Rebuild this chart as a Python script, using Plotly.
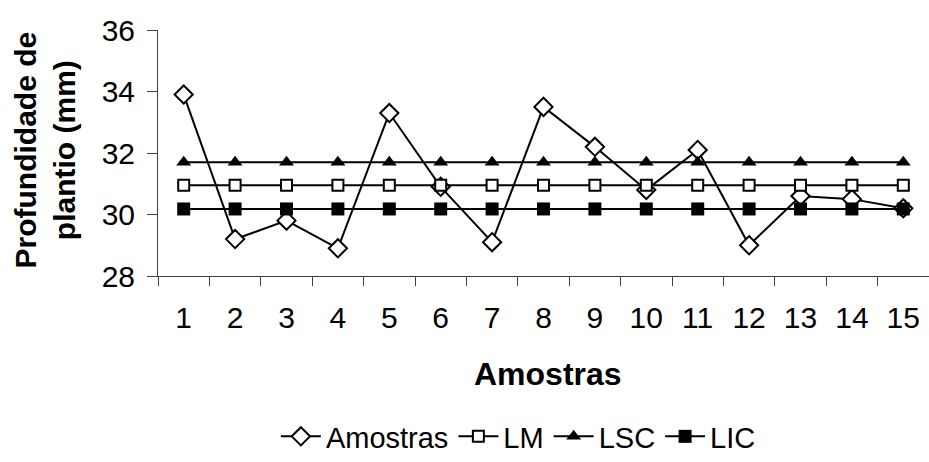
import plotly.graph_objects as go

amostras_x = ["1", "2", "3", "4", "5", "6", "7", "8", "9", "10", "11", "12", "13", "14", "15"]
amostras = [33.9, 29.2, 29.8, 28.9, 33.3, 30.9, 29.1, 33.5, 32.2, 30.8, 32.1, 29.0, 30.6, 30.5, 30.2]
lm = [30.95] * 15
lsc = [31.7] * 15
lic = [30.18] * 15
y_ticks = [28, 30, 32, 34, 36]

FONT = "Arial, Liberation Sans, sans-serif"
AX = "#404040"

fig = go.Figure()
fig.add_trace(go.Scatter(x=amostras_x, y=amostras, name="Amostras", mode="lines+markers",
                         line=dict(color="black", width=2),
                         marker=dict(symbol="diamond", size=14, color="white",
                                     line=dict(color="black", width=2))))
fig.add_trace(go.Scatter(x=amostras_x, y=lm, name="LM", mode="lines+markers",
                         line=dict(color="black", width=2),
                         marker=dict(symbol="square", size=11, color="white",
                                     line=dict(color="black", width=2))))
fig.add_trace(go.Scatter(x=amostras_x, y=lsc, name="LSC", mode="lines+markers",
                         line=dict(color="black", width=2),
                         marker=dict(symbol="triangle-up", size=13, color="black",
                                     line=dict(color="black", width=0))))
fig.add_trace(go.Scatter(x=amostras_x, y=lic, name="LIC", mode="lines+markers",
                         line=dict(color="black", width=2),
                         marker=dict(symbol="square", size=13, color="black",
                                     line=dict(color="black", width=0))))

fig.update_layout(
    width=929, height=462,
    margin=dict(l=158, r=0, t=30, b=186, autoexpand=False),
    paper_bgcolor="white", plot_bgcolor="white",
    font=dict(family=FONT, size=30, color="black"),
    showlegend=True,
    legend=dict(orientation="h", xref="container", yref="container",
                x=0.558, xanchor="center", y=0.0, yanchor="bottom",
                font=dict(size=29), itemwidth=40, tracegroupgap=0, bgcolor="rgba(0,0,0,0)"),
    xaxis=dict(type="category", tickson="boundaries", ticks="outside", ticklen=9,
               tickcolor=AX, showline=True, linecolor=AX, linewidth=1, showgrid=False,
               zeroline=False, tickfont=dict(size=30), range=[-0.5, 14.5],
               ticklabelstandoff=15, automargin=False),
    yaxis=dict(range=[28, 36], tickvals=y_ticks, ticks="outside", ticklen=10,
               tickcolor=AX, showline=True, linecolor=AX, linewidth=1, showgrid=False,
               zeroline=False, tickfont=dict(size=30), ticklabelstandoff=6, automargin=False),
    annotations=[
        dict(text="<b>Profundidade de<br>plantio (mm)</b>", xref="paper", yref="paper",
             x=-0.146, y=0.512, xanchor="center", yanchor="middle", textangle=-90,
             showarrow=False, font=dict(size=30, family=FONT)),
        dict(text="<b>Amostras</b>", xref="paper", yref="paper",
             x=0.506, y=-0.40, xanchor="center", yanchor="middle",
             showarrow=False, font=dict(size=32, family=FONT)),
    ],
)

fig.write_html("out.html")
